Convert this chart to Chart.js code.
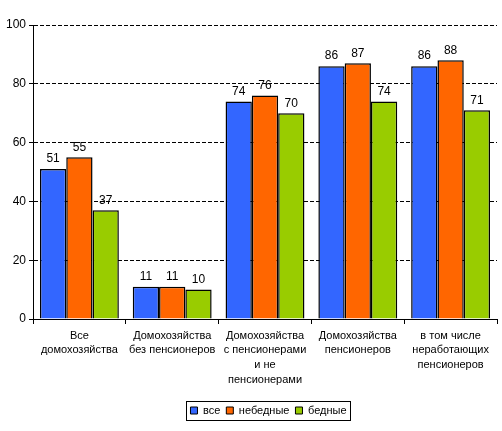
<!DOCTYPE html>
<html><head><meta charset="utf-8">
<script src="https://cdn.jsdelivr.net/npm/chart.js@4/dist/chart.umd.min.js"></script>
<style>html,body{margin:0;padding:0;background:#fff}#wrap{width:502px;height:431px}</style>
</head><body><div id="wrap"><canvas id="c" width="502" height="431"></canvas></div>
<script>
const categories = [
  ['Все','домохозяйства'],
  ['Домохозяйства','без пенсионеров'],
  ['Домохозяйства','с пенсионерами','и не','пенсионерами'],
  ['Домохозяйства','пенсионеров'],
  ['в том числе','неработающих','пенсионеров']
];
const seriesNames = ['все','небедные','бедные'];
const vse = [51, 11, 74, 86, 86];
const nebednye = [55, 11, 76, 87, 88];
const bednye = [37, 10, 70, 74, 71];
const colors = ['#3366FF','#FF6600','#99CC00'];

const FONT = '"Liberation Sans", Arial, sans-serif';

const valueLabels = {
  id:'valueLabels',
  afterDatasetsDraw(chart){
    const ctx = chart.ctx;
    ctx.save();
    ctx.font = '12px ' + FONT;
    ctx.fillStyle = '#000';
    ctx.textAlign = 'center';
    ctx.textBaseline = 'bottom';
    chart.data.datasets.forEach((ds,i)=>{
      chart.getDatasetMeta(i).data.forEach((el,j)=>{
        ctx.fillText(String(ds.data[j]), el.x, el.y - 4);
      });
    });
    ctx.restore();
  }
};
const legendShift = {
  id:'legendShift',
  afterLayout(chart){
    const lg = chart.legend;
    if(!lg) return;
    const tops = lg.legendHitBoxes.map(h=>h.top);
    lg.left += 20; lg.right += 20;
    if (lg.adjustHitBoxes) lg.adjustHitBoxes();
    lg.legendHitBoxes.forEach((h,i)=>{ h.top = tops[i]; });
  }
};
const legendBox = {
  id:'legendBox',
  afterDraw(chart){
    const lg = chart.legend;
    if(!lg || !lg.legendHitBoxes.length) return;
    const hb = lg.legendHitBoxes;
    const x1 = Math.min(...hb.map(h=>h.left)) - 4;
    const x2 = Math.max(...hb.map(h=>h.left + h.width)) + 4;
    const y1 = Math.min(...hb.map(h=>h.top)) - 4;
    const y2 = Math.max(...hb.map(h=>h.top + h.height)) + 4;
    const ctx = chart.ctx;
    ctx.save();
    ctx.strokeStyle = '#000';
    ctx.lineWidth = 1;
    ctx.strokeRect(Math.round(x1)+0.5, Math.round(y1)+0.5, Math.round(x2-x1), Math.round(y2-y1));
    ctx.restore();
  }
};

new Chart(document.getElementById('c'), {
  type:'bar',
  data:{
    labels: categories,
    datasets:[
      {label:seriesNames[0], data:vse, backgroundColor:colors[0], borderColor:'#000', borderWidth:1.5},
      {label:seriesNames[1], data:nebednye, backgroundColor:colors[1], borderColor:'#000', borderWidth:1.5},
      {label:seriesNames[2], data:bednye, backgroundColor:colors[2], borderColor:'#000', borderWidth:1.5}
    ]
  },
  options:{
    responsive:false,
    animation:false,
    devicePixelRatio:1,
    layout:{padding:{left:0,right:5,top:25,bottom:5}},
    datasets:{bar:{categoryPercentage:0.85, barPercentage:1.0}},
    plugins:{
      legend:{
        position:'bottom',
        labels:{
          font:{family:FONT, size:11},
          color:'#000',
          boxWidth:7, boxHeight:7,
          padding:6,
          generateLabels(chart){
            return chart.data.datasets.map((d,i)=>({
              text:d.label, fillStyle:d.backgroundColor, strokeStyle:'#000', lineWidth:1,
              datasetIndex:i, hidden:false, fontColor:'#000'
            }));
          }
        }
      },
      tooltip:{enabled:false}
    },
    scales:{
      x:{
        offset:true,
        grid:{display:true, drawOnChartArea:false, drawTicks:true, tickLength:5, offset:true, color:'#000'},
        border:{display:true, color:'#000', width:1},
        ticks:{font:{family:FONT, size:11, lineHeight:1.36}, color:'#000', maxRotation:0, autoSkip:false, padding:4},
        afterFit(s){ s.height = 80; }
      },
      y:{
        min:0, max:100,
        ticks:{stepSize:20, font:{family:FONT, size:12}, color:'#000', padding:3},
        grid:{color:'#000', tickLength:4, tickColor:'#000', lineWidth:1},
        border:{display:true, color:'#000', width:1, dash:[4,2]},
        afterFit(s){ s.width = 33; }
      }
    }
  },
  plugins:[legendShift, valueLabels, legendBox]
});
</script></body></html>
